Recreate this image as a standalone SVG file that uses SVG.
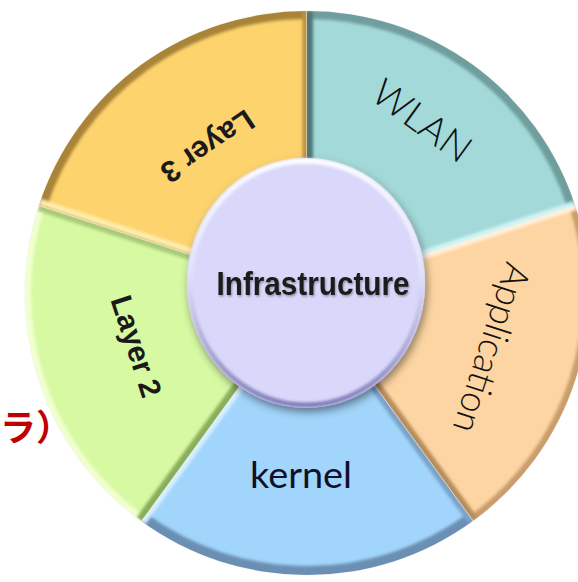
<svg xmlns="http://www.w3.org/2000/svg" width="578" height="582" viewBox="0 0 578 582">
<style>
.lbl{font-family:"Liberation Sans",Arial,sans-serif;fill:#1a1a1a}
.thin{font-family:Lato,"Liberation Sans",sans-serif;font-weight:300;fill:#111}
.reg{font-family:Lato,"Liberation Sans",sans-serif;font-weight:normal;fill:#101028}
.bold{font-weight:bold}
.wedge{stroke:#f4f4f4;stroke-width:1.5;stroke-opacity:.7}
.band{fill:none}
</style>
<defs>
<filter id="soft" x="-5%" y="-5%" width="110%" height="110%"><feGaussianBlur stdDeviation="1.6"/></filter>
<filter id="shadow" x="-20%" y="-20%" width="140%" height="140%"><feDropShadow dx="2" dy="4" stdDeviation="4" flood-color="#000" flood-opacity=".45"/></filter>
<filter id="tsh" x="-10%" y="-30%" width="120%" height="160%"><feDropShadow dx="1" dy="1.5" stdDeviation="1.2" flood-color="#000" flood-opacity=".35"/></filter>
<linearGradient id="ring" x1="0" y1="0" x2="0" y2="1">
<stop offset="0" stop-color="#ffffff"/>
<stop offset=".45" stop-color="#e4e3fd"/>
<stop offset="1" stop-color="#7f7bb5"/>
</linearGradient>
<clipPath id="cWLAN"><path d="M307,293 L307,11 A282,282 0 0 1 575.2,205.9 Z"/></clipPath>
<clipPath id="cApp"><path d="M307,293 L575.2,205.9 A282,282 0 0 1 472.8,521.1 Z"/></clipPath>
<clipPath id="cKer"><path d="M307,293 L472.8,521.1 A282,282 0 0 1 141.2,521.1 Z"/></clipPath>
<clipPath id="cL2"><path d="M307,293 L141.2,521.1 A282,282 0 0 1 38.8,205.9 Z"/></clipPath>
<clipPath id="cL3"><path d="M307,293 L38.8,205.9 A282,282 0 0 1 307,11 Z"/></clipPath>
</defs>
<rect width="578" height="582" fill="#fff"/>

<g id="layer3">
<path class="wedge" d="M307,293 L38.8,205.9 A282,282 0 0 1 307,11 Z" fill="#fdd36e"/>
<g clip-path="url(#cL3)"><g filter="url(#soft)">
<path class="band" d="M38.8,205.9 A282,282 0 0 1 307,11" stroke="#a98437" stroke-width="16"/>
<line x1="307" y1="293" x2="307" y2="11" stroke="#b99240" stroke-width="9"/>
<line x1="307" y1="293" x2="38.8" y2="205.9" stroke="#fff0b0" stroke-width="14"/>
<line x1="307" y1="293" x2="38.8" y2="205.9" stroke="#d9ad4c" stroke-width="3"/>
</g></g>
<text class="lbl bold" font-size="30" text-anchor="middle" transform="translate(208,147) rotate(146)" y="11">Layer 3</text>
</g>

<g id="wlan">
<path class="wedge" d="M307,293 L307,11 A282,282 0 0 1 575.2,205.9 Z" fill="#a3d9d8"/>
<g clip-path="url(#cWLAN)"><g filter="url(#soft)">
<path class="band" d="M307,11 A282,282 0 0 1 575.2,205.9" stroke="#6f9e9e" stroke-width="16"/>
<line x1="307" y1="293" x2="307" y2="11" stroke="#4f7777" stroke-width="12"/>
<line x1="307" y1="293" x2="575.2" y2="205.9" stroke="#d2f4f3" stroke-width="10"/>
</g></g>
<text class="thin" font-size="38" text-anchor="middle" textLength="112" lengthAdjust="spacingAndGlyphs" transform="translate(422,121) rotate(36)" y="13">WLAN</text>
</g>

<g id="application">
<path class="wedge" d="M307,293 L575.2,205.9 A282,282 0 0 1 472.8,521.1 Z" fill="#fdd5a2"/>
<g clip-path="url(#cApp)"><g filter="url(#soft)">
<path class="band" d="M575.2,205.9 A282,282 0 0 1 472.8,521.1" stroke="#c99d6c" stroke-width="12"/>
<line x1="307" y1="293" x2="575.2" y2="205.9" stroke="#fff0da" stroke-width="8"/>
<line x1="307" y1="293" x2="472.8" y2="521.1" stroke="#b88c5c" stroke-width="12"/>
</g></g>
<text class="thin" font-size="37" text-anchor="middle" textLength="176" lengthAdjust="spacingAndGlyphs" transform="translate(491,348) rotate(108)" y="12">Application</text>
</g>

<g id="kernel">
<path class="wedge" d="M307,293 L472.8,521.1 A282,282 0 0 1 141.2,521.1 Z" fill="#a2d5fb"/>
<g clip-path="url(#cKer)"><g filter="url(#soft)">
<path class="band" d="M472.8,521.1 A282,282 0 0 1 141.2,521.1" stroke="#6b8fb3" stroke-width="18"/>
<line x1="307" y1="293" x2="472.8" y2="521.1" stroke="#7aa3c8" stroke-width="10"/>
<line x1="307" y1="293" x2="141.2" y2="521.1" stroke="#d6efff" stroke-width="10"/>
</g></g>
<text class="reg" font-size="37" text-anchor="middle" textLength="102" lengthAdjust="spacingAndGlyphs" x="301" y="488">kernel</text>
</g>

<g id="layer2">
<path class="wedge" d="M307,293 L141.2,521.1 A282,282 0 0 1 38.8,205.9 Z" fill="#d6f9a2"/>
<g clip-path="url(#cL2)"><g filter="url(#soft)">
<path class="band" d="M141.2,521.1 A282,282 0 0 1 38.8,205.9" stroke="#f1ffd0" stroke-width="12"/>
<line x1="307" y1="293" x2="38.8" y2="205.9" stroke="#a9c97a" stroke-width="10"/>
<line x1="307" y1="293" x2="141.2" y2="521.1" stroke="#89ad5a" stroke-width="12"/>
</g></g>
<text class="lbl bold" font-size="30" text-anchor="middle" transform="translate(137,346) rotate(72)" y="11">Layer 2</text>
</g>

<g id="infrastructure">
<ellipse cx="306" cy="283" rx="119" ry="125" fill="#d9d8fb" filter="url(#shadow)"/>
<ellipse cx="306" cy="283" rx="116" ry="122" fill="none" stroke="url(#ring)" stroke-width="5" filter="url(#soft)"/>
<text class="lbl bold" font-size="33" text-anchor="middle" textLength="193" lengthAdjust="spacingAndGlyphs" x="313" y="295" filter="url(#tsh)">Infrastructure</text>
</g>

<text font-family="'Noto Sans CJK JP',sans-serif" font-weight="bold" font-size="36" fill="#c00000" x="0" y="441">ラ）</text>
</svg>
